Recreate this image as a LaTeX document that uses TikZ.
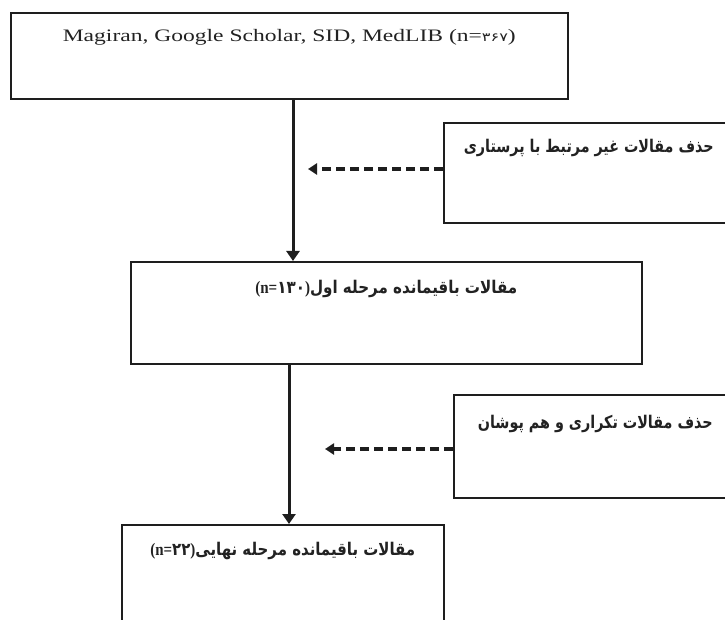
\documentclass[tikz,border=0pt]{standalone}
\usepackage{fontspec}
\usepackage{graphicx}
\setmainfont{Liberation Serif}
\newfontfamily\arabicfont[Script=Arabic]{DejaVu Sans}
\newfontfamily\digitfont{DejaVu Sans}
\TeXXeTstate=1
\usetikzlibrary{arrows.meta}
\definecolor{ink}{HTML}{1E1E1E}
\definecolor{txtc}{HTML}{222222}
\begin{document}
\begin{tikzpicture}[x=1pt,y=-1pt,
  box/.style={draw=ink, line width=1.6pt, rectangle, inner sep=0pt, anchor=north west},
  flow/.style={draw=ink, line width=3pt, -{Triangle[width=13pt,length=10pt]}},
  skip/.style={draw=ink, line width=3.2pt, dash pattern=on 9pt off 5pt, -{Triangle[width=11pt,length=9pt]}},
  txt/.style={inner sep=0pt, anchor=base, text=txtc},
  fa/.style={font=\arabicfont\bfseries\fontsize{17.5}{20}\selectfont}]
\useasboundingbox (0,0) rectangle (725,620);
\fill[white] (0,0) rectangle (725,620);
\clip (0,0) rectangle (725,620);
% boxes
\node[box, minimum width=557pt, minimum height=86pt] (b1) at (10,12) {};
\node[box, minimum width=290pt, minimum height=100pt] (s1) at (443,122) {};
\node[box, minimum width=511pt, minimum height=102pt] (b2) at (130,261) {};
\node[box, minimum width=283pt, minimum height=103pt] (s2) at (453,394) {};
\node[box, minimum width=322pt, minimum height=120pt] (b3) at (121,524) {};
% texts
\node[txt] (t1) at ([yshift=-29.5pt]b1.north)
  {\resizebox{453pt}{\height}{\fontsize{17.5}{20}\selectfont Magiran, Google Scholar, SID, MedLIB (n={\digitfont\fontsize{12}{14}\selectfont ۳۶۷})}};
\node[txt, fa] (ts1) at ([yshift=-31pt]s1.north)
  {\resizebox{250pt}{\height}{\beginR حذف مقالات غیر مرتبط با پرستاری\endR}};
\node[txt, fa] (t2) at ([yshift=-32pt]b2.north)
  {\resizebox{262pt}{\height}{\beginR مقالات باقیمانده مرحله اول\beginL{\rmfamily\bfseries(n=}{\digitfont\bfseries ۱۳۰}{\rmfamily\bfseries)}\endL\endR}};
\node[txt, fa] (ts2) at ([yshift=-34pt]s2.north)
  {\resizebox{235pt}{\height}{\beginR حذف مقالات تکراری و هم پوشان\endR}};
\node[txt, fa] (t3) at ([yshift=-31pt]b3.north)
  {\resizebox{265pt}{\height}{\beginR مقالات باقیمانده مرحله نهایی\beginL{\rmfamily\bfseries(n=}{\digitfont\bfseries ۲۲}{\rmfamily\bfseries)}\endL\endR}};
% connectors
\coordinate (ax1) at (293,0);
\coordinate (ax2) at (289,0);
\draw[flow] (b1.south -| ax1) -- (b2.north -| ax1);
\draw[flow] (b2.south -| ax2) -- (b3.north -| ax2);
\coordinate (d1) at (308,169);
\coordinate (d2) at (325,449);
\draw[skip] (s1.west |- d1) -- (d1);
\draw[skip] (s2.west |- d2) -- (d2);
\end{tikzpicture}
\end{document}
